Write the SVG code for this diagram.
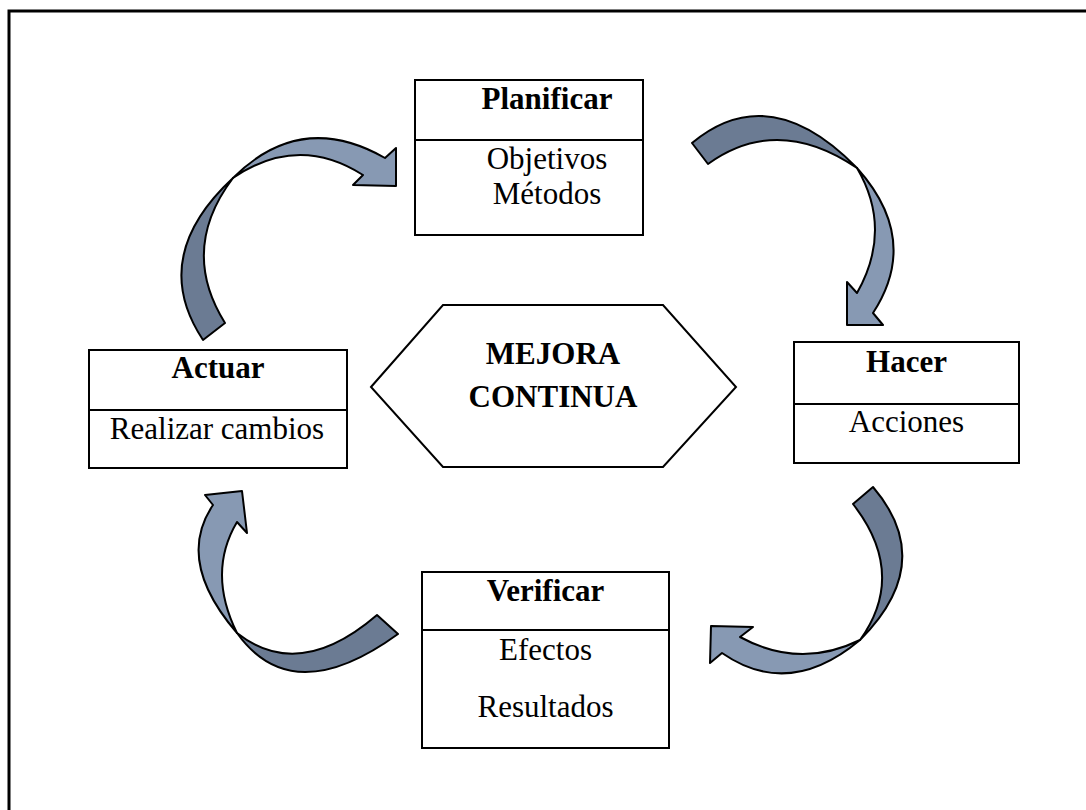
<svg xmlns="http://www.w3.org/2000/svg" width="1086" height="810" viewBox="0 0 1086 810">
<style>
.box{fill:#fff;stroke:#000;stroke-width:2}
.div{stroke:#000;stroke-width:2}
.t{font-family:"Liberation Serif","Times New Roman",serif;font-size:31px;text-anchor:middle;fill:#000}
.b{font-weight:bold;font-size:31px}
.m{font-size:33px}
.dk{fill:#6b7b93;stroke:#000;stroke-width:2;stroke-linejoin:round}
.lt{fill:#8799b3;stroke:#000;stroke-width:2;stroke-linejoin:round}
</style>
<rect width="1086" height="810" fill="#fff"/>
<path d="M9,810 V11 H1086" fill="none" stroke="#000" stroke-width="3"/>
<g id="connectors">
<g id="arrow-plan-hacer">
<path class="dk" d="M692,143 Q769.5,78.5 857,168 Q777.5,114 708,164 Z"/>
<path class="lt" d="M857,168 Q921,239.5 873,313 L883,325 L847,325 L847,282 L857,293 Q893,229.5 857,168 Z"/>
</g>
<g id="arrow-hacer-verif">
<path class="dk" d="M873,487 Q937.5,562.5 860,640 Q907.5,574 853,504 Z"/>
<path class="lt" d="M860,640 Q789,699.5 722,653 L710,663 L711,626 L753,627 L740,637 Q800,669.5 860,640 Z"/>
</g>
<g id="arrow-verif-actuar">
<path class="dk" d="M398,634 Q292.5,710.5 237,633 Q299,682 377,615 Z"/>
<path class="lt" d="M237,633 Q175,561 213,505 L205,495 L242,491 L247,533 L237,522 Q207,572.5 237,633 Z"/>
</g>
<g id="arrow-actuar-plan">
<path class="dk" d="M203,340 Q148,257 233,178 Q179,249.5 225,323 Z"/>
<path class="lt" d="M233,178 Q301,110 385,158 L396,148 L396,186 L353,185 L363,175 Q298,133.5 233,178 Z"/>
</g>
</g>
<g id="planificar">
<rect class="box" x="415" y="80" width="228" height="155"/>
<line class="div" x1="415" y1="140" x2="643" y2="140"/>
<text class="t b" x="547" y="109">Planificar</text>
<text class="t" x="547" y="169">Objetivos</text>
<text class="t" x="547" y="204">Métodos</text>
</g>
<g id="hacer">
<rect class="box" x="794" y="342" width="225" height="121"/>
<line class="div" x1="794" y1="404" x2="1019" y2="404"/>
<text class="t b" x="906.5" y="372">Hacer</text>
<text class="t" x="906.5" y="432">Acciones</text>
</g>
<g id="verificar">
<rect class="box" x="422" y="572" width="247" height="176"/>
<line class="div" x1="422" y1="630" x2="669" y2="630"/>
<text class="t b" x="545.5" y="601">Verificar</text>
<text class="t" x="545.5" y="660">Efectos</text>
<text class="t" x="545.5" y="717">Resultados</text>
</g>
<g id="actuar">
<rect class="box" x="89" y="350" width="258" height="118"/>
<line class="div" x1="89" y1="410" x2="347" y2="410"/>
<text class="t b" x="218" y="378">Actuar</text>
<text class="t" x="217" y="439">Realizar cambios</text>
</g>
<g id="mejora">
<polygon class="box" points="371,387 443,305 663,305 736,387 663,467 443,467"/>
<text class="t b" x="553" y="364">MEJORA</text>
<text class="t b" x="553" y="407">CONTINUA</text>
</g>
</svg>
